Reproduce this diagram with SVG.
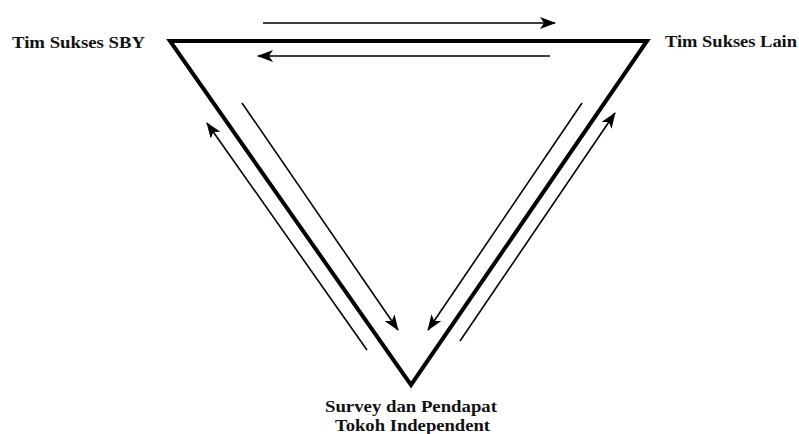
<svg xmlns="http://www.w3.org/2000/svg" width="799" height="434" viewBox="0 0 799 434">
<style>
.lbl{font-family:"Liberation Serif","Times New Roman",serif;font-weight:bold;font-size:16px;fill:#111}
.tri{fill:none;stroke:#000;stroke-width:4;stroke-linejoin:miter}
.arr{fill:none;stroke:#000;stroke-width:1.6}
</style>
<defs>
<marker id="ah" viewBox="0 0 16 12" refX="15" refY="6" markerWidth="16" markerHeight="12" markerUnits="userSpaceOnUse" orient="auto">
<path d="M0,0 L16,6 L0,12 L4,6 Z" fill="#000"/>
</marker>
</defs>
<rect width="799" height="434" fill="#fff"/>
<g id="triangle">
<polygon class="tri" points="170,41 647,41 411,385"/>
</g>
<g id="node-sby">
<text class="lbl" x="12" y="48" textLength="133" lengthAdjust="spacingAndGlyphs">Tim Sukses SBY</text>
</g>
<g id="node-lain">
<text class="lbl" x="665" y="47" textLength="132" lengthAdjust="spacingAndGlyphs">Tim Sukses Lain</text>
</g>
<g id="node-survey">
<text class="lbl" x="325" y="412" textLength="172" lengthAdjust="spacingAndGlyphs">Survey dan Pendapat</text>
<text class="lbl" x="335" y="431" textLength="155" lengthAdjust="spacingAndGlyphs">Tokoh Independent</text>
</g>
<g id="connectors">
<line class="arr" x1="263" y1="23" x2="555" y2="23" marker-end="url(#ah)"/>
<line class="arr" x1="550" y1="56" x2="258" y2="56" stroke-width="2.4" marker-end="url(#ah)"/>
<line class="arr" x1="367" y1="350" x2="207" y2="123" marker-end="url(#ah)"/>
<line class="arr" x1="242" y1="103" x2="398" y2="330" marker-end="url(#ah)"/>
<line class="arr" x1="582" y1="103" x2="428" y2="330" marker-end="url(#ah)"/>
<line class="arr" x1="460" y1="341" x2="615" y2="113" marker-end="url(#ah)"/>
</g>
</svg>
